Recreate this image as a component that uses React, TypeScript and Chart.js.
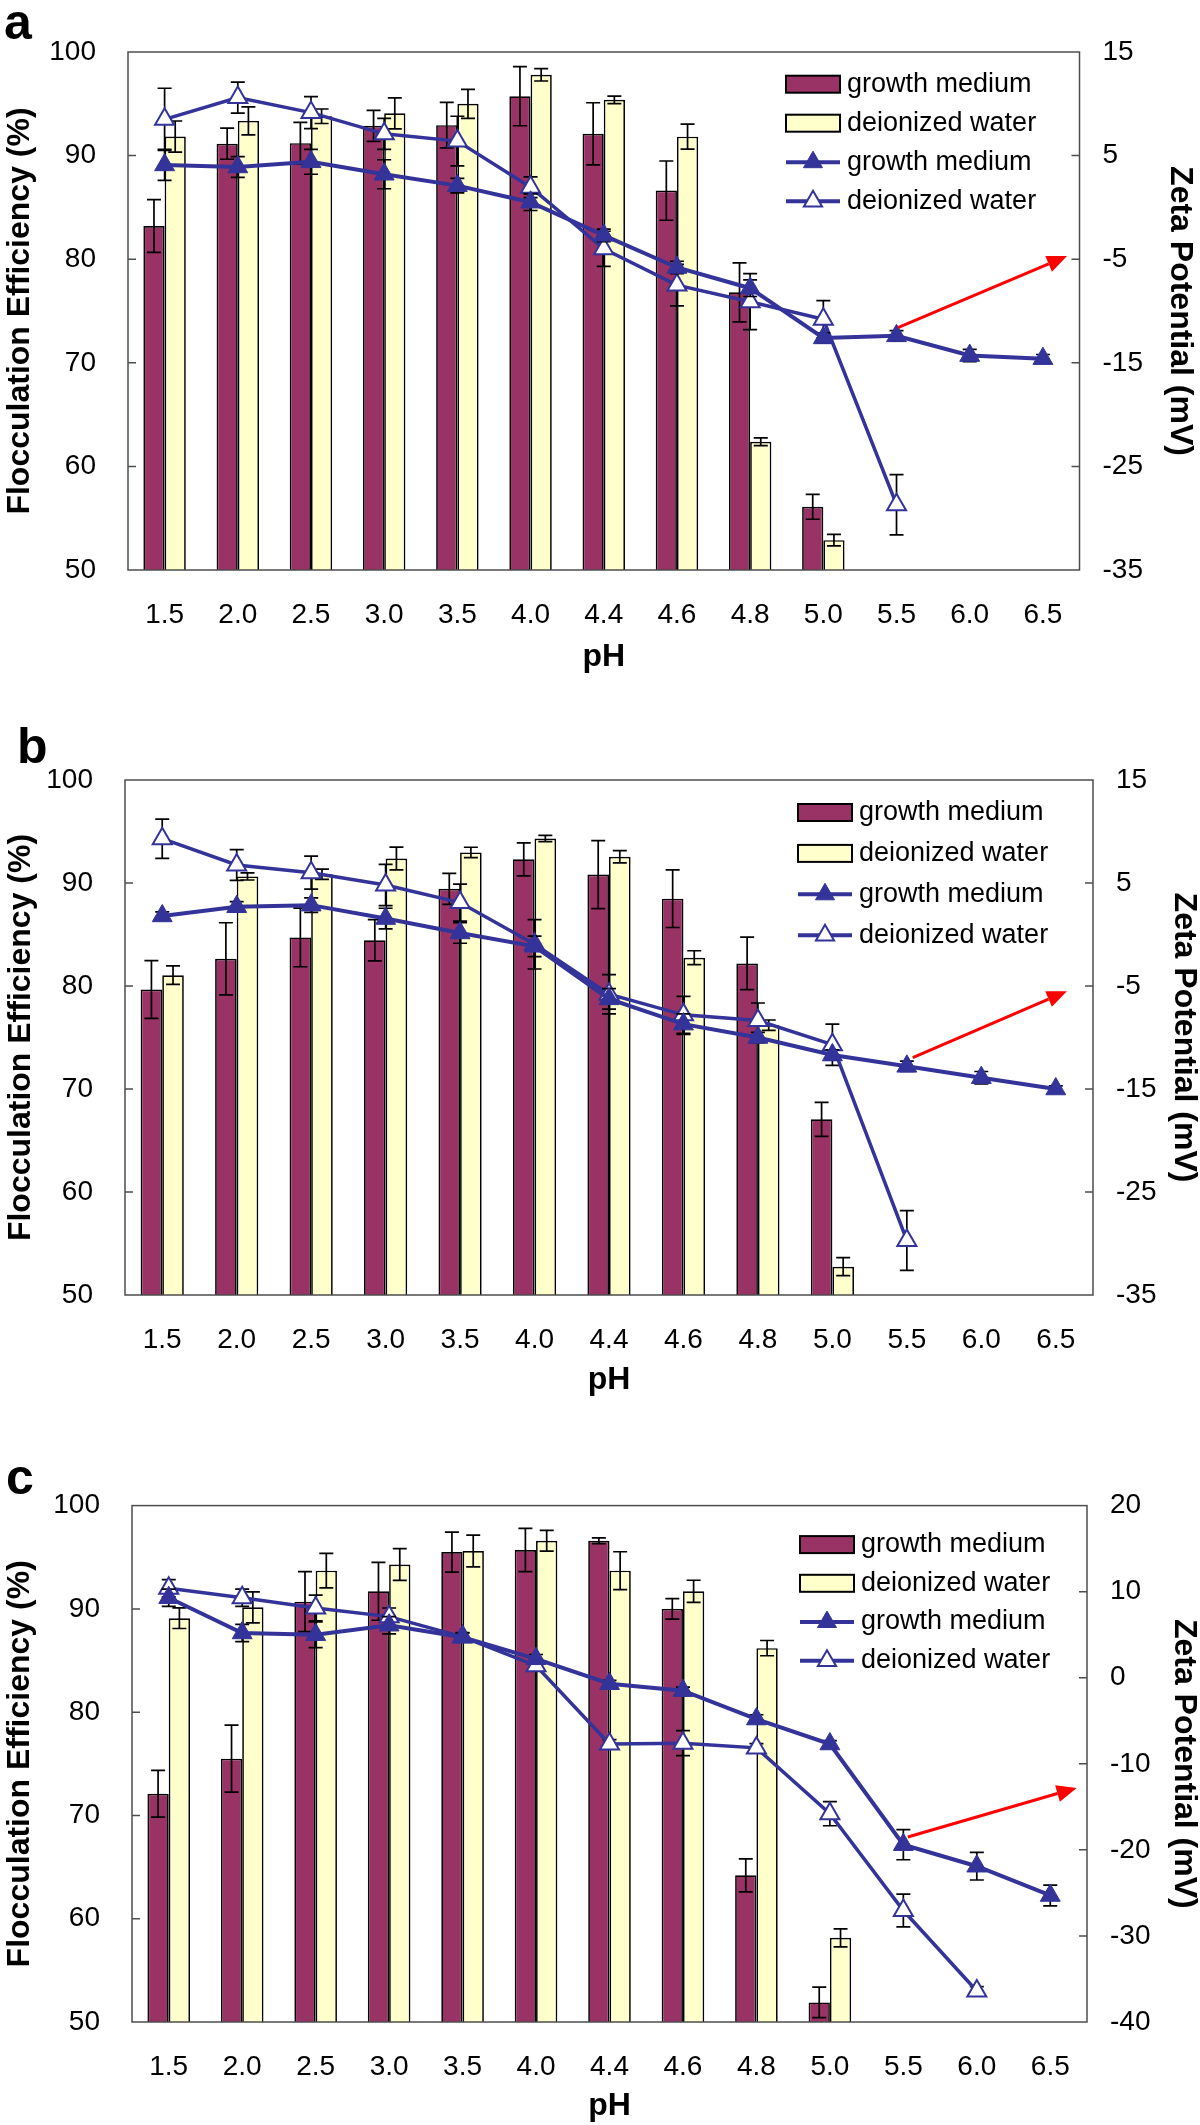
import React, { useEffect, useRef } from 'react';
import { Chart, registerables } from 'chart.js';

Chart.register(...registerables);

// ---------- shared categories ----------
const PH_LABELS = ['1.5', '2.0', '2.5', '3.0', '3.5', '4.0', '4.4', '4.6', '4.8', '5.0', '5.5', '6.0', '6.5'];
const LEGEND_LABELS = ['growth medium', 'deionized water', 'growth medium', 'deionized water'];

// ---------- panel a ----------
const A_FE_GROWTH = [83.2, 91.15, 91.2, 92.87, 92.94, 95.73, 92.1, 86.62, 76.8, 56.1, null, null, null];
const A_FE_GROWTH_ERR = [2.55, 1.5, 2.0, 1.5, 2.2, 2.85, 3.0, 2.86, 2.85, 1.2, null, null, null];
const A_FE_WATER = [91.84, 93.35, 93.8, 94.08, 95.0, 97.8, 95.38, 91.83, 62.38, 52.88, null, null, null];
const A_FE_WATER_ERR = [1.5, 1.35, 0.7, 1.5, 1.4, 0.6, 0.37, 1.2, 0.37, 0.55, null, null, null];
const A_ZETA_GROWTH = [4.1, 3.9, 4.4, 3.2, 2.1, 0.5, -2.7, -5.8, -7.8, -12.6, -12.4, -14.3, -14.6];
const A_ZETA_GROWTH_ERR = [1.5, 1.0, 1.2, 1.4, 0.7, 0.8, 0.6, 0.6, 0.8, 0.5, 0.5, 0.6, 0.4];
const A_ZETA_WATER = [8.5, 10.6, 9.15, 7.1, 6.4, 1.95, -4.0, -7.5, -9.1, -10.8, -28.7, null, null];
const A_ZETA_WATER_ERR = [3.0, 1.5, 1.55, 1.5, 2.4, 1.0, 1.7, 2.0, 2.7, 1.8, 2.9, null, null];
const A_ARROW_X = [10.02, 12.33];
const A_ARROW_ZETA = [-11.6, -4.7];

// ---------- panel b ----------
const B_FE_GROWTH = [79.66, 82.64, 84.72, 84.44, 89.43, 92.3, 90.82, 88.48, 82.19, 67.06, null, null, null];
const B_FE_GROWTH_ERR = [2.8, 3.5, 2.85, 2.0, 1.5, 1.6, 3.3, 2.8, 2.55, 1.65, null, null, null];
const B_FE_WATER = [81.05, 90.64, 90.85, 92.38, 92.97, 94.32, 92.55, 82.75, 76.2, 52.75, null, null, null];
const B_FE_WATER_ERR = [0.9, 0.35, 0.5, 1.1, 0.5, 0.3, 0.6, 0.67, 0.5, 0.87, null, null, null];
const B_ZETA_GROWTH = [1.8, 2.7, 2.85, 1.55, 0.15, -1.15, -6.25, -8.7, -10.0, -11.7, -12.8, -13.9, -15.0];
const B_ZETA_GROWTH_ERR = [0.4, 0.5, 0.7, 1.0, 1.0, 1.0, 1.0, 1.0, 0.5, 0.5, 0.5, 0.6, 0.3];
const B_ZETA_WATER = [9.3, 6.75, 6.0, 4.8, 3.1, -0.95, -5.8, -7.8, -8.35, -10.7, -29.7, null, null];
const B_ZETA_WATER_ERR = [1.9, 1.5, 1.6, 2.0, 1.8, 2.4, 1.9, 1.8, 1.7, 2.0, 2.9, null, null];
const B_ARROW_X = [10.08, 12.15];
const B_ARROW_ZETA = [-11.95, -5.5];

// ---------- panel c ----------
const C_FE_GROWTH = [72.1, 75.5, 90.7, 91.7, 95.5, 95.7, 96.6, 90.0, 64.2, 51.9, null, null, null];
const C_FE_GROWTH_ERR = [2.26, 3.24, 2.9, 2.8, 1.94, 2.1, 0.28, 1.0, 1.6, 1.48, null, null, null];
const C_FE_WATER = [89.1, 90.15, 93.7, 94.3, 95.6, 96.6, 93.7, 91.7, 86.2, 58.15, null, null, null];
const C_FE_WATER_ERR = [1.0, 1.5, 1.67, 1.54, 1.54, 1.0, 1.83, 1.07, 0.74, 0.87, null, null, null];
const C_ZETA_GROWTH = [9.3, 5.2, 5.0, 6.1, 4.7, 2.2, -0.7, -1.5, -4.8, -7.7, -19.4, -21.9, -25.3];
const C_ZETA_GROWTH_ERR = [1.0, 1.0, 1.5, 1.0, 0.5, 0.5, 0.4, 0.4, 0.5, 0.4, 1.75, 1.6, 1.2];
const C_ZETA_WATER = [10.4, 9.3, 8.1, 7.1, 4.75, 1.4, -7.7, -7.6, -8.15, -15.8, -27.05, -36.4, null];
const C_ZETA_WATER_ERR = [1.0, 1.0, 1.5, 1.0, 0.5, 0.5, 0.5, 1.45, 0.5, 1.4, 1.9, 0.5, null];
const C_ARROW_X = [10.06, 12.36];
const C_ARROW_ZETA = [-18.5, -12.8];

// ---------- style ----------
const FONT = '"Liberation Sans", Arial, Helvetica, sans-serif';
const PURPLE = '#993366';
const CREAM = '#FFFFCC';
const NAVY = '#333399';
const FRAME = '#4d4d4d';
const RED = '#FF0000';

const PANELS: any[] = [
  {
    letter: 'a', top: 0, height: 700,
    area: { left: 128, right: 1079.5, top: 52, bottom: 570 },
    zetaMin: -35, zetaMax: 15,
    feGrowth: A_FE_GROWTH, feGrowthErr: A_FE_GROWTH_ERR, feWater: A_FE_WATER, feWaterErr: A_FE_WATER_ERR,
    zGrowth: A_ZETA_GROWTH, zGrowthErr: A_ZETA_GROWTH_ERR, zWater: A_ZETA_WATER, zWaterErr: A_ZETA_WATER_ERR,
    arrowX: A_ARROW_X, arrowZ: A_ARROW_ZETA,
    legend: { dx: 293.5, dy: 32.2, gap: 39 },
    letterPos: { x: 4, y: 39 },
    yTitlePad: 4, y2TitlePad: 4, xTitlePad: 27,
  },
  {
    letter: 'b', top: 700, height: 710,
    area: { left: 125, right: 1093, top: 80, bottom: 595 },
    zetaMin: -35, zetaMax: 15,
    feGrowth: B_FE_GROWTH, feGrowthErr: B_FE_GROWTH_ERR, feWater: B_FE_WATER, feWaterErr: B_FE_WATER_ERR,
    zGrowth: B_ZETA_GROWTH, zGrowthErr: B_ZETA_GROWTH_ERR, zWater: B_ZETA_WATER, zWaterErr: B_ZETA_WATER_ERR,
    arrowX: B_ARROW_X, arrowZ: B_ARROW_ZETA,
    legend: { dx: 295, dy: 32.5, gap: 40.9 },
    letterPos: { x: 17, y: 63 },
    yTitlePad: 5, y2TitlePad: 0, xTitlePad: 14,
  },
  {
    letter: 'c', top: 1410, height: 715,
    area: { left: 132, right: 1087, top: 95.6, bottom: 612 },
    zetaMin: -40, zetaMax: 20,
    feGrowth: C_FE_GROWTH, feGrowthErr: C_FE_GROWTH_ERR, feWater: C_FE_WATER, feWaterErr: C_FE_WATER_ERR,
    zGrowth: C_ZETA_GROWTH, zGrowthErr: C_ZETA_GROWTH_ERR, zWater: C_ZETA_WATER, zWaterErr: C_ZETA_WATER_ERR,
    arrowX: C_ARROW_X, arrowZ: C_ARROW_ZETA,
    legend: { dx: 287, dy: 39, gap: 38.7 },
    letterPos: { x: 6, y: 84 },
    yTitlePad: 4, y2TitlePad: 0, xTitlePad: 3,
  },
];

function drawErrors(chart: any, index: number, cap: number) {
  const ds: any = chart.data.datasets[index];
  const errs = ds.errors;
  if (!errs) return;
  const meta = chart.getDatasetMeta(index);
  const scale = chart.scales[meta.yAxisID];
  const ctx = chart.ctx;
  ctx.save();
  ctx.strokeStyle = '#000';
  ctx.lineWidth = 1.7;
  meta.data.forEach((el: any, i: number) => {
    const v = ds.data[i];
    const e = errs[i];
    if (v == null || e == null) return;
    const x = el.x;
    const y1 = scale.getPixelForValue(v + e);
    const y2 = scale.getPixelForValue(v - e);
    ctx.beginPath();
    ctx.moveTo(x, y1); ctx.lineTo(x, y2);
    ctx.moveTo(x - cap, y1); ctx.lineTo(x + cap, y1);
    ctx.moveTo(x - cap, y2); ctx.lineTo(x + cap, y2);
    ctx.stroke();
  });
  ctx.restore();
}

function triangle(ctx: any, x: number, y: number, r: number, fill: string, stroke: string, lw: number) {
  ctx.beginPath();
  let rad = 0;
  ctx.moveTo(x + Math.sin(rad) * r, y - Math.cos(rad) * r);
  rad += (2 * Math.PI) / 3;
  ctx.lineTo(x + Math.sin(rad) * r, y - Math.cos(rad) * r);
  rad += (2 * Math.PI) / 3;
  ctx.lineTo(x + Math.sin(rad) * r, y - Math.cos(rad) * r);
  ctx.closePath();
  ctx.fillStyle = fill;
  ctx.fill();
  ctx.lineWidth = lw;
  ctx.strokeStyle = stroke;
  ctx.stroke();
}

function makeDecor(p: any) {
  return {
    id: 'decor' + p.letter,
    beforeDatasetDraw(chart: any, args: any) {
      const ds = chart.data.datasets[args.index];
      if (ds.type === 'line') drawErrors(chart, args.index, 7);
    },
    afterDatasetDraw(chart: any, args: any) {
      const ds = chart.data.datasets[args.index];
      if (ds.type !== 'line') drawErrors(chart, args.index, 7);
    },
    afterDraw(chart: any) {
      const ctx = chart.ctx;
      const a = chart.chartArea;
      const ys = chart.scales.y;
      const ys2 = chart.scales.y2;
      const xs = chart.scales.x;
      ctx.save();
      // frame
      ctx.strokeStyle = FRAME;
      ctx.lineWidth = 1.5;
      ctx.strokeRect(a.left, a.top, a.right - a.left, a.bottom - a.top);
      // inward ticks
      ctx.beginPath();
      ys.ticks.forEach((t: any) => {
        const py = ys.getPixelForValue(t.value);
        if (py <= a.top + 1 || py >= a.bottom - 1) return;
        ctx.moveTo(a.left, py); ctx.lineTo(a.left + 8, py);
      });
      ys2.ticks.forEach((t: any) => {
        const py = ys2.getPixelForValue(t.value);
        if (py <= a.top + 1 || py >= a.bottom - 1) return;
        ctx.moveTo(a.right, py); ctx.lineTo(a.right - 8, py);
      });
      ctx.stroke();

      // red arrow
      const x0 = xs.getPixelForValue(p.arrowX[0]);
      const y0 = ys2.getPixelForValue(p.arrowZ[0]);
      const x1 = xs.getPixelForValue(p.arrowX[1]);
      const y1 = ys2.getPixelForValue(p.arrowZ[1]);
      const ang = Math.atan2(y1 - y0, x1 - x0);
      const headLen = 20, headW = 8.5;
      const bx = x1 - Math.cos(ang) * headLen;
      const by = y1 - Math.sin(ang) * headLen;
      ctx.strokeStyle = RED;
      ctx.lineWidth = 3;
      ctx.beginPath();
      ctx.moveTo(x0, y0); ctx.lineTo(bx, by);
      ctx.stroke();
      ctx.fillStyle = RED;
      ctx.beginPath();
      ctx.moveTo(x1, y1);
      ctx.lineTo(bx + Math.sin(ang) * headW, by - Math.cos(ang) * headW);
      ctx.lineTo(bx - Math.sin(ang) * headW, by + Math.cos(ang) * headW);
      ctx.closePath();
      ctx.fill();

      // legend
      const lx = a.right - p.legend.dx;
      const bw = 54, bh = 17;
      ctx.font = `27px ${FONT}`;
      ctx.textBaseline = 'middle';
      ctx.textAlign = 'left';
      LEGEND_LABELS.forEach((label, i) => {
        const cy = a.top + p.legend.dy + i * p.legend.gap;
        if (i < 2) {
          ctx.fillStyle = i === 0 ? PURPLE : CREAM;
          ctx.fillRect(lx, cy - bh / 2, bw, bh);
          ctx.strokeStyle = '#000';
          ctx.lineWidth = 2;
          ctx.strokeRect(lx, cy - bh / 2, bw, bh);
        } else {
          ctx.strokeStyle = NAVY;
          ctx.lineWidth = 4;
          ctx.beginPath();
          ctx.moveTo(lx, cy); ctx.lineTo(lx + bw, cy);
          ctx.stroke();
          if (i === 2) triangle(ctx, lx + bw / 2, cy, 11, NAVY, NAVY, 1);
          else triangle(ctx, lx + bw / 2, cy, 10.5, '#ffffff', NAVY, 2);
        }
        ctx.fillStyle = '#000';
        ctx.fillText(label, lx + 61, cy);
      });

      // panel letter
      ctx.font = `bold 50px ${FONT}`;
      ctx.textBaseline = 'alphabetic';
      ctx.fillStyle = '#000';
      ctx.fillText(p.letter, p.letterPos.x, p.letterPos.y);
      ctx.restore();
    },
  };
}

function buildConfig(p: any, W: number): any {
  const tickFont = { family: FONT, size: 28 };
  const titleFont = { family: FONT, size: 32, weight: 'bold', lineHeight: 1 };
  return {
    type: 'bar',
    data: {
      labels: PH_LABELS,
      datasets: [
        {
          label: 'growth medium', data: p.feGrowth, errors: p.feGrowthErr, yAxisID: 'y',
          backgroundColor: PURPLE, borderColor: '#000', borderWidth: 1.7, order: 2,
          categoryPercentage: 0.58, barPercentage: 1.0,
        },
        {
          label: 'deionized water', data: p.feWater, errors: p.feWaterErr, yAxisID: 'y',
          backgroundColor: CREAM, borderColor: '#000', borderWidth: 1.7, order: 2,
          categoryPercentage: 0.58, barPercentage: 1.0,
        },
        {
          type: 'line', label: 'growth medium', data: p.zGrowth, errors: p.zGrowthErr, yAxisID: 'y2',
          borderColor: NAVY, borderWidth: 4, pointStyle: 'triangle', pointRadius: 11.5,
          pointBackgroundColor: NAVY, pointBorderColor: NAVY, pointBorderWidth: 1, tension: 0, order: 0,
          spanGaps: false,
        },
        {
          type: 'line', label: 'deionized water', data: p.zWater, errors: p.zWaterErr, yAxisID: 'y2',
          borderColor: NAVY, borderWidth: 3.5, pointStyle: 'triangle', pointRadius: 11,
          pointBackgroundColor: '#ffffff', pointBorderColor: NAVY, pointBorderWidth: 2, tension: 0, order: 1,
          spanGaps: false,
        },
      ],
    },
    options: {
      responsive: false,
      animation: false,
      events: [],
      layout: { padding: { top: p.area.top, left: 0, right: 0, bottom: 0 } },
      plugins: { legend: { display: false }, tooltip: { enabled: false } },
      scales: {
        x: {
          type: 'category',
          offset: true,
          grid: { display: false, drawTicks: false },
          border: { display: false },
          ticks: { font: tickFont, color: '#000', padding: 28, maxRotation: 0, autoSkip: false },
          title: { display: true, text: 'pH', color: '#000', font: titleFont, padding: { top: 0, bottom: p.xTitlePad } },
          afterFit: (s: any) => { s.height = p.height - p.area.bottom; },
        },
        y: {
          type: 'linear', position: 'left', min: 50, max: 100,
          grid: { display: false, drawTicks: false },
          border: { display: false },
          ticks: { stepSize: 10, font: tickFont, color: '#000', padding: 32 },
          title: { display: true, text: 'Flocculation Efficiency (%)', color: '#000', font: titleFont, padding: { top: p.yTitlePad, bottom: 0 } },
          afterFit: (s: any) => { s.width = p.area.left; },
        },
        y2: {
          type: 'linear', position: 'right', min: p.zetaMin, max: p.zetaMax,
          grid: { display: false, drawTicks: false },
          border: { display: false },
          ticks: { stepSize: 10, font: tickFont, color: '#000', padding: 23 },
          title: { display: true, text: 'Zeta Potential (mV)', color: '#000', font: titleFont, padding: { top: p.y2TitlePad, bottom: 0 } },
          afterFit: (s: any) => { s.width = W - p.area.right; },
        },
      },
    },
    plugins: [makeDecor(p)],
  };
}

function PanelChart({ p }: { p: any }) {
  const ref = useRef<HTMLCanvasElement | null>(null);
  useEffect(() => {
    if (!ref.current) return;
    const chart = new Chart(ref.current, buildConfig(p, 1200));
    return () => chart.destroy();
  }, [p]);
  return (
    <canvas
      ref={ref}
      width={1200}
      height={p.height}
      style={{ position: 'absolute', left: 0, top: p.top, width: 1200, height: p.height, display: 'block' }}
    />
  );
}

export default function App() {
  return (
    <div style={{ position: 'absolute', left: 0, top: 0, width: 1200, height: 2125, background: '#ffffff' }}>
      {PANELS.map((p) => (
        <PanelChart key={p.letter} p={p} />
      ))}
    </div>
  );
}
